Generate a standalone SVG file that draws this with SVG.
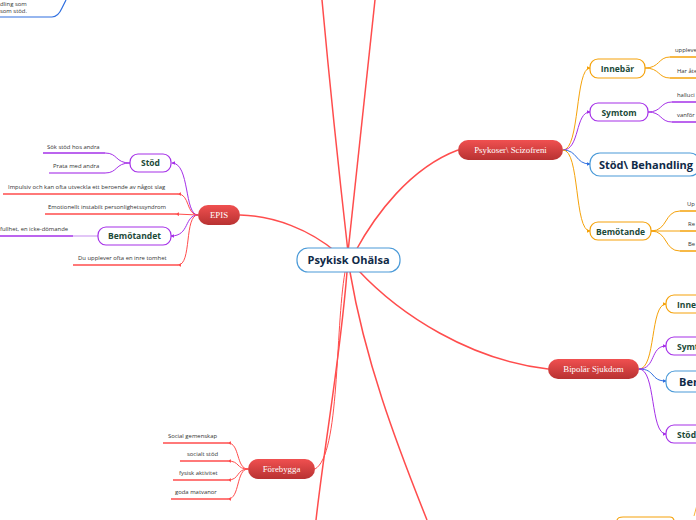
<svg xmlns="http://www.w3.org/2000/svg" width="696" height="520" viewBox="0 0 696 520">
<defs>
<linearGradient id="rg" x1="0" y1="0" x2="0" y2="1"><stop offset="0" stop-color="#f05050"/><stop offset="1" stop-color="#b83232"/></linearGradient>
<marker id="ar" viewBox="0 0 6 6" refX="5" refY="3" markerWidth="4" markerHeight="4" orient="auto"><path d="M0,0 L6,3 L0,6 z" fill="#ff4d4d"/></marker>
<marker id="ap" viewBox="0 0 6 6" refX="5" refY="3" markerWidth="4" markerHeight="4" orient="auto"><path d="M0,0 L6,3 L0,6 z" fill="#a530e8"/></marker>
<marker id="ao" viewBox="0 0 6 6" refX="5" refY="3" markerWidth="4" markerHeight="4" orient="auto"><path d="M0,0 L6,3 L0,6 z" fill="#f5a20a"/></marker>
<marker id="ab" viewBox="0 0 6 6" refX="5" refY="3" markerWidth="4" markerHeight="4" orient="auto"><path d="M0,0 L6,3 L0,6 z" fill="#2f6fe0"/></marker>
</defs>
<style>
.red{fill:none;stroke:#ff4d4d;stroke-width:1.5}
.redt{fill:none;stroke:#ff4d4d;stroke-width:1}
.pur{fill:none;stroke:#a530e8;stroke-width:1}
.pl{fill:none;stroke:#a530e8;stroke-width:1.5}
.lpl{fill:none;stroke:#d9b3f5;stroke-width:1.5}
.or{fill:none;stroke:#f5a20a;stroke-width:1}
.ol{fill:none;stroke:#f5a20a;stroke-width:1.5}
.bl{fill:none;stroke:#2f6fe0;stroke-width:1}
.rl{fill:none;stroke:#ff4d4d;stroke-width:1.5}
.leaf{font-family:"Open Sans","Liberation Sans",sans-serif;font-size:5.9px;fill:#333}
.rn{fill:url(#rg)}
.rt{font-family:"Liberation Serif",serif;font-size:8.8px;fill:#fff;text-anchor:middle}
.nb{fill:#fff;stroke-width:1.2}
.nt{font-family:"Open Sans","Liberation Sans",sans-serif;font-size:8.5px;font-weight:bold;fill:#1b4a38;text-anchor:middle}
.ntb{font-family:"Open Sans","Liberation Sans",sans-serif;font-size:11px;font-weight:bold;fill:#0f2a48;text-anchor:middle}
</style>

<g id="connectors">
<path class="red" d="M348,252 Q333,120 322,0"/>
<path class="red" d="M348,252 Q362,120 375,0"/>
<path class="red" d="M336,252 C310,230 275,216 240,215"/>
<path class="red" d="M355,252 C375,215 410,168 458,150"/>
<path class="red" d="M358,270 C400,315 470,360 548,369"/>
<path class="redt" d="M345,272 C335,330 340,455 315,469"/>
<path class="red" d="M347,272 C340,360 325,440 316,520"/>
<path class="red" d="M350,272 C365,360 395,440 427,520"/>
<path class="pur" d="M198,215 C184,215 190,163 172,163" marker-end="url(#ap)"/>
<path class="redt" d="M198,215 C186,215 190,194 178,194" marker-end="url(#ar)"/>
<path class="redt" d="M198,215 L176,214" marker-end="url(#ar)"/>
<path class="pur" d="M198,215 C184,215 190,236 171,236" marker-end="url(#ap)"/>
<path class="redt" d="M198,215 C184,215 192,265 178,265" marker-end="url(#ar)"/>
<line class="rl" x1="3" y1="194" x2="178" y2="194"/>
<line class="rl" x1="45" y1="214" x2="176" y2="214"/>
<line class="rl" x1="73" y1="265" x2="178" y2="265"/>
<line class="pl" x1="0" y1="236" x2="73" y2="236"/>
<line class="lpl" x1="73" y1="236" x2="98" y2="236"/>
<path class="pur" d="M130,163 C115,163 118,153 105,153"/>
<path class="pur" d="M130,163 C115,163 118,173 105,173"/>
<line class="pl" x1="43" y1="153" x2="105" y2="153"/>
<line class="pl" x1="49" y1="173" x2="105" y2="173" stroke-opacity="0.75"/>
<path class="or" d="M563,150 C580,150 575,68 590,68" marker-end="url(#ao)"/>
<path class="pur" d="M563,150 C580,150 575,112 590,112" marker-end="url(#ap)"/>
<path class="bl" d="M563,150 C578,150 575,164 590,164" marker-end="url(#ab)"/>
<path class="or" d="M563,150 C580,150 574,231 590,231" marker-end="url(#ao)"/>
<path class="or" d="M645,68 C660,68 658,57 670,57"/>
<path class="or" d="M645,68 C660,68 658,78 670,78"/>
<line class="ol" x1="670" y1="57" x2="696" y2="57"/>
<line class="ol" x1="670" y1="78" x2="696" y2="78"/>
<path class="pur" d="M648,112 C662,112 660,102 672,102"/>
<path class="pur" d="M648,112 C662,112 660,122 672,122"/>
<line class="pl" x1="672" y1="102" x2="696" y2="102"/>
<line class="pl" x1="672" y1="122" x2="696" y2="122"/>
<path class="or" d="M651,231 C668,231 664,211 680,211"/>
<path class="or" d="M651,231 L680,231"/>
<path class="or" d="M651,231 C668,231 664,251 680,251"/>
<line class="ol" x1="680" y1="211" x2="696" y2="211"/>
<line class="ol" x1="680" y1="231" x2="696" y2="231"/>
<line class="ol" x1="680" y1="251" x2="696" y2="251"/>
<path class="or" d="M639,369 C656,369 650,304 666,304" marker-end="url(#ao)"/>
<path class="pur" d="M639,369 C656,369 650,346 666,346" marker-end="url(#ap)"/>
<path class="bl" d="M639,369 C656,369 650,381 666,381" marker-end="url(#ab)"/>
<path class="pur" d="M639,369 C656,369 650,434 666,434" marker-end="url(#ap)"/>
<path class="redt" d="M248,469 C236,469 240,443 228,443" marker-end="url(#ar)"/>
<path class="redt" d="M248,469 C236,469 240,461 228,461" marker-end="url(#ar)"/>
<path class="redt" d="M248,469 C236,469 240,480 228,480" marker-end="url(#ar)"/>
<path class="redt" d="M248,469 C236,469 240,499 228,499" marker-end="url(#ar)"/>
<line class="rl" x1="163" y1="443" x2="228" y2="443"/>
<line class="rl" x1="180" y1="461" x2="228" y2="461"/>
<line class="rl" x1="173" y1="480" x2="228" y2="480"/>
<line class="rl" x1="171" y1="499" x2="228" y2="499"/>
<path d="M0,17 L52,17 Q58,17 62,8 L66,0" fill="none" stroke="#2f6fe0" stroke-width="1.2"/>
<path d="M617,520 Q618,517 623,517 L670,517 Q673,517 674,520" fill="none" stroke="#f5a20a" stroke-width="1.2"/>
<path d="M694,516 L697,505" fill="none" stroke="#f5a20a" stroke-width="0.8"/>
</g>

<g id="center">
<rect x="297" y="248" width="103" height="24" rx="11" fill="#fff" stroke="#4a9ad8" stroke-width="1.2"/>
<text x="348.5" y="264" class="ntb" font-size="10.5">Psykisk Ohälsa</text>
</g>

<g id="topleft">
<text x="0" y="6" class="leaf">dling som</text>
<text x="0" y="13" class="leaf">som stöd.</text>
</g>

<g id="epis">
<rect x="198" y="205" width="42" height="20" rx="10" class="rn"/>
<text x="219" y="218" class="rt">EPIS</text>
</g>
<g id="epis-stod">
<rect x="130" y="154" width="41" height="18" rx="8" class="nb" stroke="#a530e8"/>
<text x="150.5" y="166" class="nt">Stöd</text>
</g>
<g id="epis-bemotandet">
<rect x="98" y="227" width="73" height="18" rx="8" class="nb" stroke="#a530e8"/>
<text x="134.5" y="239" class="nt">Bemötandet</text>
</g>
<g id="epis-leaves">
<text x="47" y="149" class="leaf">Sök stöd hos andra</text>
<text x="53" y="168" class="leaf">Prata med andra</text>
<text x="8" y="189" class="leaf">Impulsiv och kan ofta utveckla ett beroende av något slag</text>
<text x="48" y="209" class="leaf">Emotionellt instabilt personlighetssyndrom</text>
<text x="0" y="231" class="leaf">fullhet, en icke-dömande</text>
<text x="78" y="260" class="leaf">Du upplever ofta en inre tomhet</text>
</g>

<g id="psykoser">
<rect x="458" y="140" width="105" height="20" rx="10" class="rn"/>
<text x="510.5" y="153" class="rt">Psykoser\ Scizofreni</text>
</g>
<g id="psy-innebar">
<rect x="590" y="59" width="55" height="19" rx="8" class="nb" stroke="#f5a20a"/>
<text x="617.5" y="71.5" class="nt">Innebär</text>
</g>
<g id="psy-symtom">
<rect x="590" y="103" width="58" height="18" rx="8" class="nb" stroke="#a530e8"/>
<text x="619" y="115.5" class="nt">Symtom</text>
</g>
<g id="psy-stod">
<rect x="590" y="153" width="110" height="23" rx="10" class="nb" stroke="#4a9ad8"/>
<text x="646" y="168.5" class="ntb">Stöd\ Behandling</text>
</g>
<g id="psy-bemotande">
<rect x="590" y="222" width="61" height="18" rx="8" class="nb" stroke="#f5a20a"/>
<text x="620.5" y="234.5" class="nt">Bemötande</text>
</g>
<g id="psy-leaves">
<text x="675" y="52" class="leaf">upplever</text>
<text x="677" y="73" class="leaf">Har åte</text>
<text x="677" y="97" class="leaf">halluci</text>
<text x="677" y="117" class="leaf">vanför</text>
<text x="687" y="206" class="leaf">Up</text>
<text x="688" y="226" class="leaf">Re</text>
<text x="688" y="246" class="leaf">Be</text>
</g>

<g id="bipolar">
<rect x="548" y="359" width="91" height="20" rx="10" class="rn"/>
<text x="593.5" y="372" class="rt">Bipolär Sjukdom</text>
</g>
<g id="bip-innebar">
<rect x="666" y="295" width="60" height="18" rx="8" class="nb" stroke="#f5a20a"/>
<text x="677" y="307.5" class="nt" style="text-anchor:start">Innebär</text>
</g>
<g id="bip-symtom">
<rect x="666" y="337" width="60" height="18" rx="8" class="nb" stroke="#a530e8"/>
<text x="677" y="349.5" class="nt" style="text-anchor:start">Symtom</text>
</g>
<g id="bip-bemotande">
<rect x="666" y="371" width="80" height="21" rx="9" class="nb" stroke="#4a9ad8"/>
<text x="679" y="386" class="ntb" style="text-anchor:start">Bemötande</text>
</g>
<g id="bip-stod">
<rect x="666" y="425" width="60" height="18" rx="8" class="nb" stroke="#a530e8"/>
<text x="677" y="437.5" class="nt" style="text-anchor:start">Stöd</text>
</g>

<g id="forebygga">
<rect x="248" y="459" width="67" height="20" rx="10" class="rn"/>
<text x="281.5" y="472" class="rt">Förebygga</text>
</g>
<g id="fore-leaves">
<text x="168" y="438" class="leaf">Social gemenskap</text>
<text x="187" y="456" class="leaf">socialt stöd</text>
<text x="179" y="475" class="leaf">fysisk aktivitet</text>
<text x="175" y="494" class="leaf">goda matvanor</text>
</g>
</svg>
